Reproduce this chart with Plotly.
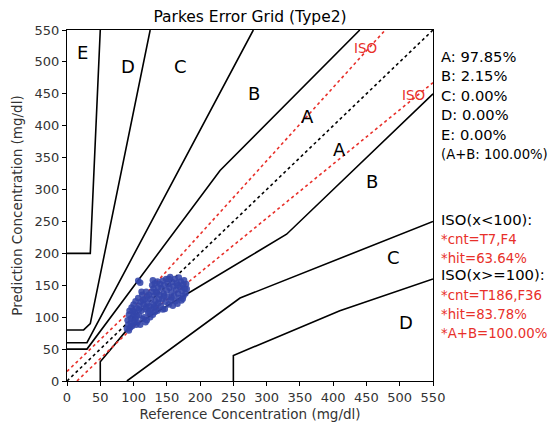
import plotly.graph_objects as go

# ---- data (reference vs prediction, mg/dl) ----
ref_x = [90, 91, 92, 93, 94, 95, 96, 97, 96, 93,
         98, 99, 100, 101, 102, 103, 104, 105, 100, 103,
         106, 107, 108, 109, 110, 111, 112, 113, 114, 115, 108, 112, 110, 107,
         116, 117, 118, 119, 120, 121, 122, 123, 124, 125, 118, 121,
         126, 127, 128, 129, 130, 131, 132, 133, 134, 135, 136, 137,
         128, 129, 130, 132, 134, 136, 137, 139, 140,
         141, 142, 143, 144, 145, 146, 147, 148, 149, 150, 144,
         151, 152, 153, 154, 155, 156, 157, 158, 159, 160, 153,
         161, 162, 163, 164, 165, 166, 167, 168, 169, 170,
         171, 172, 173, 174, 175, 176, 177, 178, 179, 180,
         99, 105, 114, 119, 124, 131, 138, 146, 157, 166, 174]
pred_y = [82, 95, 88, 104, 110, 84, 98, 115, 90, 79,
          86, 100, 120, 93, 108, 125, 88, 114, 105, 97,
          92, 130, 103, 118, 88, 124, 110, 135, 97, 120, 112, 140, 154, 157,
          100, 128, 113, 140, 95, 122, 107, 135, 117, 100, 92, 132,
          128, 112, 140, 104, 120, 134, 108, 125, 115, 138, 110, 122,
          150, 158, 145, 153, 140, 156, 147, 135, 152,
          118, 145, 128, 157, 137, 150, 113, 124, 160, 142, 112,
          132, 152, 120, 146, 163, 127, 139, 155, 118, 148, 160,
          134, 160, 125, 143, 153, 121, 137, 162, 130, 147,
          156, 126, 141, 151, 133, 158, 145, 137, 152, 144,
          110, 102, 127, 116, 108, 116, 128, 133, 131, 150, 129]

zones = {
    "A_upper": ([0, 30, 230, 440], [50, 50, 330, 550]),
    "A_lower": ([50, 50, 90, 330, 550], [0, 30, 80, 230, 450]),
    "B_upper": ([0, 30, 280], [60, 60, 550]),
    "B_lower": ([90, 260, 550], [0, 130, 250]),
    "C_upper": ([0, 25, 35, 125], [80, 80, 90, 550]),
    "C_lower": ([250, 250, 410, 550], [0, 40, 110, 160]),
    "D_upper": ([0, 35, 50], [200, 200, 550]),
}
iso_upper = ([0, 100, 550], [15, 115, 632.5])
iso_lower = ([15, 100, 550], [0, 85, 467.5])
diag = ([0, 550], [0, 550])

zone_labels = [("E", 24, 515), ("D", 92, 493), ("C", 171, 493), ("B", 281, 451), ("A", 362, 414),
               ("A", 410, 362), ("B", 458, 313), ("C", 490, 193), ("D", 509, 92)]
iso_labels = [("ISO", 448, 522), ("ISO", 520, 448)]

stats_lines = ["A: 97.85%", "B: 2.15%", "C: 0.00%", "D: 0.00%", "E: 0.00%"]
ab_line = "(A+B: 100.00%)"
iso_text = [("ISO(x<100):", "black"), ("*cnt=T7,F4", "#e8302a"), ("*hit=63.64%", "#e8302a"),
            ("ISO(x>=100):", "black"), ("*cnt=T186,F36", "#e8302a"), ("*hit=83.78%", "#e8302a"),
            ("*A+B=100.00%", "#e8302a")]

FONT = "DejaVu Sans"
fig = go.Figure()

for name, (xs, ys) in zones.items():
    fig.add_trace(go.Scatter(x=xs, y=ys, mode="lines", line=dict(color="black", width=1.6),
                             hoverinfo="skip", showlegend=False))
fig.add_trace(go.Scatter(x=diag[0], y=diag[1], mode="lines",
                         line=dict(color="black", width=1.6, dash="dot"), showlegend=False))
for xs, ys in (iso_upper, iso_lower):
    fig.add_trace(go.Scatter(x=xs, y=ys, mode="lines",
                             line=dict(color="#e8302a", width=1.6, dash="dot"), showlegend=False))

fig.add_trace(go.Scatter(x=ref_x, y=pred_y, mode="markers",
                         marker=dict(color="#3346aa", size=6.5, opacity=0.88, line=dict(width=0)),
                         showlegend=False))

ann = []
for t, x, y in zone_labels:
    ann.append(dict(x=x, y=y, text=t, showarrow=False, font=dict(family=FONT, size=18, color="black")))
for t, x, y in iso_labels:
    ann.append(dict(x=x, y=y, text=t, showarrow=False, font=dict(family=FONT, size=13.5, color="#e8302a")))

# page body has an 8px margin: figure is drawn from (8,8)
OFF = 8
W, H = 560 - OFF, 424 - OFF
PL, PR, PT, PB = 67, 433, 30, 381  # plot area in screenshot pixels
L, T = PL - OFF, PT - OFF
R, B = W - (PR - OFF), H - (PB - OFF)
pw, ph = PR - PL, PB - PT


def px(xp):
    return (xp - PL) / pw


def py(yp):
    return (PB - yp) / ph


ys_stats = [56, 75.5, 95, 114.5, 134]
for t, yp in zip(stats_lines, ys_stats):
    ann.append(dict(xref="paper", yref="paper", x=px(439), y=py(yp), text=t, showarrow=False,
                    xanchor="left", yanchor="middle", font=dict(family=FONT, size=14.7, color="black")))
ann.append(dict(xref="paper", yref="paper", x=px(439), y=py(154), text=ab_line, showarrow=False,
                xanchor="left", yanchor="middle", font=dict(family=FONT, size=13.2, color="black")))
ys_iso = [219, 239, 258, 274, 295, 314, 333]
for (t, c), yp in zip(iso_text, ys_iso):
    sz = 14.8 if c == "black" else 13.3
    ann.append(dict(xref="paper", yref="paper", x=px(439), y=py(yp), text=t, showarrow=False,
                    xanchor="left", yanchor="middle", font=dict(family=FONT, size=sz, color=c)))

axis_common = dict(range=[0, 550], dtick=50, tick0=0, showgrid=False, zeroline=False,
                   showline=True, linecolor="black", linewidth=1, mirror=True,
                   ticks="outside", ticklen=4, tickcolor="black",
                   tickfont=dict(family=FONT, size=13, color="#333333"))
fig.update_layout(
    width=W, height=H, margin=dict(l=L, r=R, t=T, b=B, autoexpand=False),
    paper_bgcolor="white", plot_bgcolor="white",
    title=dict(text="Parkes Error Grid (Type2)", x=(L + pw / 2) / W, xanchor="center",
               y=1 - 3 / H, yanchor="top", font=dict(family=FONT, size=15.5, color="black")),
    xaxis=dict(title=dict(text="Reference Concentration (mg/dl)", standoff=5,
                          font=dict(family=FONT, size=13.5, color="#333333")), **axis_common),
    yaxis=dict(title=dict(text="Prediction Concentration (mg/dl)", standoff=8,
                          font=dict(family=FONT, size=13.5, color="#333333")), **axis_common),
    annotations=ann,
)
fig.write_html("out.html")
